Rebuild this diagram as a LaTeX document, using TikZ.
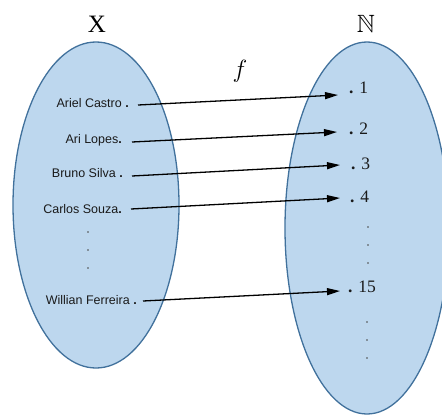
\documentclass[tikz,border=0pt]{standalone}
\usepackage{fontspec}
\usepackage{amssymb}
\usetikzlibrary{arrows.meta,shapes.geometric}
\newfontfamily\namefont{Liberation Sans}
\newfontfamily\numfont{Liberation Serif}
\definecolor{setfill}{HTML}{BDD7EE}
\definecolor{setline}{HTML}{41719C}
\definecolor{txt}{HTML}{1A1A1A}
\tikzset{
  setshape/.style={ellipse, draw=setline, fill=setfill, line width=1.3pt, inner sep=0pt},
  namelbl/.style={anchor=base east, inner sep=0pt, text=txt, font=\namefont\fontsize{12.5}{14}\selectfont},
  numlbl/.style={anchor=base west, inner sep=0pt, text=txt, font=\numfont\fontsize{17.5}{20}\selectfont},
  titlelbl/.style={inner sep=0pt, font=\fontsize{25}{27}\selectfont},
  maparrow/.style={line width=1.3pt, -{Triangle[length=13pt,width=7pt]}},
  vdot/.style={circle, fill=txt!80, inner sep=0pt, minimum size=1.8pt},
}
\begin{document}
\begin{tikzpicture}[x=1pt,y=-1pt]
\useasboundingbox (0,0) rectangle (442,415);
\node[setshape, minimum width=166pt, minimum height=326pt] (X) at (96,205) {};
\node[setshape, minimum width=164pt, minimum height=372pt] (N) at (367,228) {};
\node[titlelbl] (Xt) at (97,24) {\numfont X};
\node[titlelbl] (Nt) at (366,24) {$\mathbb{N}$};
\node[titlelbl] (f) at (240,71) {$f$};
% domain
\node[namelbl] (a1) at (129,107) {Ariel Castro \textbf{.}};
\node[namelbl] (a2) at (122,143) {Ari Lopes\textbf{.}};
\node[namelbl] (a3) at (123,177) {Bruno Silva \textbf{.}};
\node[namelbl] (a4) at (122,213) {Carlos Souza\textbf{.}};
\node[namelbl] (a5) at (137,304) {Willian Ferreira \textbf{.}};
\node[vdot] (ld1) at (88,232) {};
\node[vdot] (ld2) at (88,250) {};
\node[vdot] (ld3) at (88,268) {};
% codomain
\node[numlbl] (n1) at (349,93) {\textbf{.} 1};
\node[numlbl] (n2) at (349,134) {\textbf{.} 2};
\node[numlbl] (n3) at (351,169) {\textbf{.} 3};
\node[numlbl] (n4) at (350,202) {\textbf{.} 4};
\node[numlbl] (n5) at (348,292) {\textbf{.} 15};
\node[vdot] (rd1) at (368,227) {};
\node[vdot] (rd2) at (368,245) {};
\node[vdot] (rd3) at (368,263) {};
\node[vdot] (rd4) at (367,322) {};
\node[vdot] (rd5) at (367,340) {};
\node[vdot] (rd6) at (367,358) {};
% arrows
\draw[maparrow] ([xshift=9pt,yshift=2pt]a1.base east) -- ([xshift=-11pt,yshift=-2pt]n1.base west);
\draw[maparrow] ([xshift=10pt,yshift=1pt]a2.base east) -- ([xshift=-12pt,yshift=2pt]n2.base west);
\draw[maparrow] ([xshift=9pt,yshift=1pt]a3.base east) -- ([xshift=-11pt,yshift=4pt]n3.base west);
\draw[maparrow] ([xshift=9pt,yshift=4pt]a4.base east) -- ([xshift=-10pt,yshift=4pt]n4.base west);
\draw[maparrow] ([xshift=6pt,yshift=3pt]a5.base east) -- ([xshift=-8pt,yshift=1pt]n5.base west);
\end{tikzpicture}
\end{document}
